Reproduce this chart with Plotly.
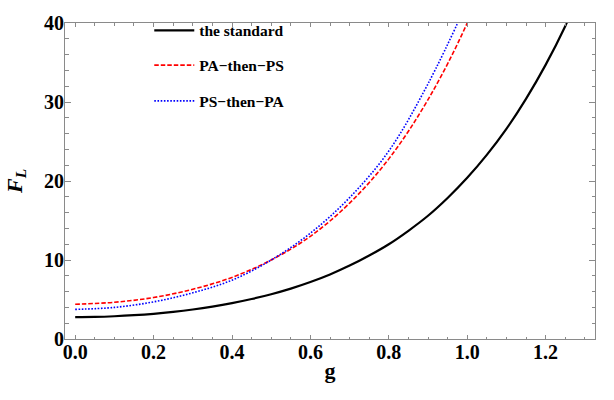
import plotly.graph_objects as go

g_vals = [0.0, 0.05, 0.1, 0.15, 0.2, 0.25, 0.3, 0.35, 0.4, 0.45, 0.5, 0.55, 0.6, 0.65,
          0.7, 0.75, 0.8, 0.85, 0.9, 0.95, 1.0, 1.05, 1.1, 1.15, 1.2, 1.25, 1.3]
standard = [2.78, 2.80, 2.88, 3.01, 3.19, 3.43, 3.73, 4.10, 4.54, 5.06, 5.67, 6.38, 7.21, 8.17,
            9.29, 10.57, 12.0, 13.7, 15.6, 17.85, 20.4, 23.3, 26.6, 30.4, 34.7, 39.6, 45.3]

g_pa = [0.0, 0.1, 0.2, 0.3, 0.4, 0.5, 0.6, 0.7, 0.8, 0.9, 1.0, 1.1]
pa_then_ps = [4.40, 4.65, 5.25, 6.3, 7.8, 10.0, 13.0, 17.2, 22.8, 30.3, 40.0, 52.8]

g_ps = [0.0, 0.1, 0.2, 0.3, 0.4, 0.5, 0.6, 0.7, 0.8, 0.9, 1.0]
ps_then_pa = [3.75, 4.0, 4.7, 5.85, 7.45, 10.0, 13.4, 17.9, 23.8, 32.3, 42.6]

names = ["the standard", "PA\u2212then\u2212PS", "PS\u2212then\u2212PA"]

FONT = "Liberation Serif"
AXC = "#8a8a8a"

fig = go.Figure()
fig.add_trace(go.Scatter(x=g_vals, y=standard, mode="lines", name=names[0],
                         line=dict(color="black", width=2.2, shape="spline"),
                         legend="legend"))
fig.add_trace(go.Scatter(x=g_pa, y=pa_then_ps, mode="lines", name=names[1],
                         line=dict(color="#ff0000", width=1.6, dash="4.5px,2px", shape="spline"),
                         legend="legend2"))
fig.add_trace(go.Scatter(x=g_ps, y=ps_then_pa, mode="lines", name=names[2],
                         line=dict(color="#0000ff", width=1.6, dash="1.6px,1.6px", shape="spline"),
                         legend="legend3"))

leg_common = dict(xanchor="left", yanchor="middle", bgcolor="rgba(0,0,0,0)",
                  font=dict(family=FONT, size=15.5, color="black", weight="bold"),
                  itemwidth=40)

fig.update_layout(
    width=614, height=400,
    margin=dict(l=65, r=19, t=12, b=61),
    paper_bgcolor="white", plot_bgcolor="white",
    showlegend=True,
    legend=dict(x=0.159, y=(339 - 20) / 327, **leg_common),
    legend2=dict(x=0.159, y=(339 - 56) / 327, **leg_common),
    legend3=dict(x=0.159, y=(339 - 93) / 327, **leg_common),
    font=dict(family=FONT, color="black"),
)

fig.update_xaxes(
    range=[-0.026, 1.326], tickmode="array",
    tickvals=[0.0, 0.2, 0.4, 0.6, 0.8, 1.0, 1.2],
    ticktext=["0.0", "0.2", "0.4", "0.6", "0.8", "1.0", "1.2"],
    ticks="inside", ticklen=4, tickcolor=AXC, tickwidth=1,
    minor=dict(ticks="inside", dtick=0.05, tick0=0, ticklen=2.5, tickcolor=AXC, tickwidth=1),
    showline=True, linecolor=AXC, linewidth=1, mirror="ticks",
    showgrid=False, zeroline=False, ticklabelstandoff=-5,
    tickfont=dict(family=FONT, size=20, color="black", weight="bold"),
    title=dict(text="g", font=dict(family=FONT, size=22, color="black", weight="bold"), standoff=0),
)
fig.update_yaxes(
    range=[0, 40], tickmode="array",
    tickvals=[0, 10, 20, 30, 40],
    ticks="inside", ticklen=6, tickcolor=AXC, tickwidth=1,
    minor=dict(ticks="inside", dtick=2, tick0=0, ticklen=3.5, tickcolor=AXC, tickwidth=1),
    showline=True, linecolor=AXC, linewidth=1, mirror="ticks",
    showgrid=False, zeroline=False, ticklabelstandoff=-4,
    tickfont=dict(family=FONT, size=20, color="black", weight="bold"),
    title=dict(text="<i>F</i><sub><i>L</i></sub>", font=dict(family=FONT, size=22, color="black", weight="bold"), standoff=15),
)

fig.write_html("out.html")
